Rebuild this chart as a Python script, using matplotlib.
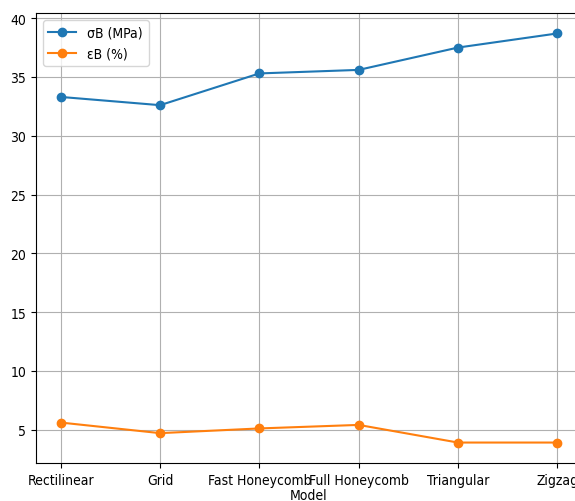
import matplotlib
matplotlib.use("Agg")
import matplotlib.pyplot as plt

# 填充模式与对应的力学性能
models = ["Rectilinear", "Grid", "Fast Honeycomb", "Full Honeycomb", "Triangular", "Zigzag"]
sigma_b = [33.3, 32.6, 35.3, 35.6, 37.5, 38.7]
eps_b = [5.6, 4.7, 5.1, 5.4, 3.9, 3.9]

# 原图文字横向较窄, 用 condensed 字体
plt.rcParams["font.family"] = ["DejaVu Sans"]
plt.rcParams["font.stretch"] = "condensed"

fig = plt.figure(figsize=(5.75, 5.02), dpi=100)
# 原图右侧被裁掉, 所以坐标区超出画布
ax = fig.add_axes([0.0626, 0.0757, 0.9496, 0.8964])

ax.plot(models, sigma_b, marker="o", label="σB (MPa)")
ax.plot(models, eps_b, marker="o", label="εB (%)")

ax.set_xlabel("Model", labelpad=1)
ax.grid(True)
ax.legend(loc="upper left")

fig.savefig("out.png", dpi=100)
